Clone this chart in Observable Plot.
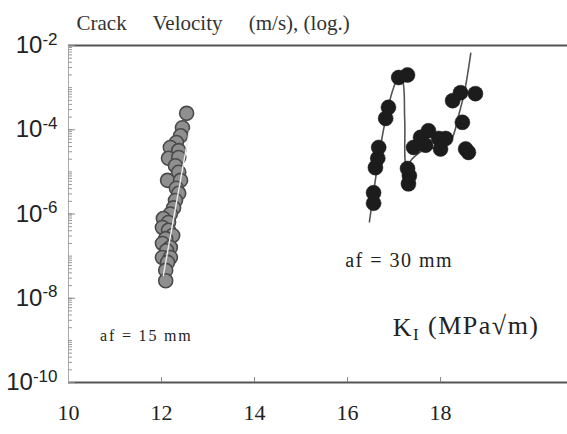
<!DOCTYPE html>
<html>
<head>
<meta charset="utf-8">
<script src="https://cdn.jsdelivr.net/npm/d3@7"></script>
<script src="https://cdn.jsdelivr.net/npm/@observablehq/plot@0.6"></script>
<style>
  html, body { margin: 0; padding: 0; background: #fff; }
  svg text { white-space: pre; }
</style>
</head>
<body>
<div id="chart"></div>
<script>
// Crack velocity vs stress intensity factor K_I, two crack lengths

// af = 15 mm specimen: K_I (MPa√m) and crack velocity (m/s)
const k15 = [12.54, 12.45, 12.41, 12.32, 12.19, 12.37, 12.15, 12.37, 12.30, 12.37,
             12.13, 12.41, 12.32, 12.37, 12.30, 12.26, 12.19, 12.04, 12.15, 12.02,
             12.15, 12.24, 12.09, 12.02, 12.19, 12.11, 12.02, 12.19, 12.13, 12.09, 12.09];
const v15 = [2.45e-4, 1.12e-4, 7.2e-5, 5.0e-5, 3.8e-5, 3.2e-5, 2.1e-5, 2.2e-5, 1.4e-5, 9.8e-6,
             6.3e-6, 6.3e-6, 4.1e-6, 3.1e-6, 2.1e-6, 1.4e-6, 1.0e-6, 7.8e-7, 6.3e-7, 4.8e-7,
             4.1e-7, 3.1e-7, 2.6e-7, 2.0e-7, 1.6e-7, 1.35e-7, 9.3e-8, 9.3e-8, 7.1e-8, 4.6e-8, 2.6e-8];
// fitted trend for af = 15 mm
const fit15K = [12.04, 12.60];
const fit15V = [3.5e-8, 9.5e-5];

// af = 30 mm specimen
const k30 = [16.56, 16.56, 16.60, 16.65, 16.67, 16.82, 16.88, 17.10, 17.29, 17.31,
             17.33, 17.29, 17.42, 17.57, 17.74, 17.96, 18.11, 18.00, 17.68, 18.26,
             18.43, 18.75, 18.47, 18.54, 18.60];
const v30 = [1.8e-6, 3.2e-6, 1.26e-5, 2.1e-5, 3.8e-5, 1.86e-4, 3.4e-4, 1.74e-3, 2.0e-3, 5.2e-6,
             8.1e-6, 1.2e-5, 3.8e-5, 6.6e-5, 9.5e-5, 6.2e-5, 6.2e-5, 3.5e-5, 4.3e-5, 4.9e-4,
             7.6e-4, 7.2e-4, 1.5e-4, 3.5e-5, 2.9e-5];
// fitted trend for af = 30 mm
const fit30K = [16.47, 16.77, 16.97, 17.10, 17.18, 17.23, 17.27, 17.40, 17.68, 18.00, 18.22, 18.39, 18.52, 18.65];
const fit30V = [6.5e-7, 9.5e-5, 8.5e-4, 1.8e-3, 1.5e-3, 1.66e-4, 1.4e-5, 2.1e-5, 3.5e-5, 3.8e-5, 5.5e-5, 2.2e-4, 8.5e-4, 6.5e-3];

// axis ticks
const xTicks = [10, 12, 14, 16, 18];
const yLabelTicks = [1e-2, 1e-4, 1e-6, 1e-8, 1e-10];
const yMinorTicks = d3.scaleLog().domain([1e-10, 1e-2]).ticks();

const pts15 = k15.map((k, i) => ({k, v: v15[i]}));
const pts30 = k30.map((k, i) => ({k, v: v30[i]}));
const line15 = fit15K.map((k, i) => ({k, v: fit15V[i]}));
const line30 = fit30K.map((k, i) => ({k, v: fit30V[i]}));

const serif = "'Liberation Serif', 'Times New Roman', serif";
const sans = "'Liberation Sans', Arial, sans-serif";

const chart = Plot.plot({
  width: 567,
  height: 434,
  marginLeft: 68,
  marginRight: 0,
  marginTop: 45,
  marginBottom: 52,
  x: {domain: [10, 20.73], label: null},
  y: {type: "log", domain: [1e-10, 1e-2], label: null},
  style: {background: "#fff", color: "#222"},
  marks: [
    // frame lines
    Plot.ruleY([1e-10, 1e-2], {stroke: "#555", strokeWidth: 2}),
    Plot.ruleX([10], {stroke: "#aaa", strokeWidth: 1}),
    // y axis minor ticks (inward)
    Plot.axisY(yMinorTicks, {tickSize: -4, text: null, stroke: "#999", label: null}),
    Plot.axisY(yLabelTicks, {tickSize: -7, text: null, stroke: "#888", label: null}),
    Plot.axisY(yLabelTicks, {
      tickSize: 0, tickPadding: 11, fontSize: 24, fontFamily: sans, fill: "#222", label: null,
      tickFormat: d => "10^" + Math.round(Math.log10(d))
    }),
    // x axis
    Plot.axisX(xTicks.slice(1), {tickSize: -5, text: null, stroke: "#888", label: null}),
    Plot.axisX(xTicks, {tickSize: 0, tickPadding: 22, fontSize: 22, fontFamily: serif, fill: "#222", label: null, tickFormat: d => String(d)}),
    // af = 30 mm trend and points
    Plot.line(line30, {x: "k", y: "v", curve: "catmull-rom", stroke: "#555", strokeWidth: 1.6}),
    Plot.dot(pts30, {x: "k", y: "v", r: 7.5, fill: "#1c1c1c", stroke: "#1c1c1c", strokeWidth: 0.5}),
    // af = 15 mm points and trend
    Plot.dot(pts15, {x: "k", y: "v", r: 7, fill: "#8f8f8f", stroke: "#4a4a4a", strokeWidth: 1.6}),
    Plot.line(line15, {x: "k", y: "v", stroke: "#eeeeee", strokeWidth: 1.4}),
    // annotations
    Plot.text(["Crack     Velocity     (m/s), (log.)"], {frameAnchor: "top-left", dx: 8, dy: -30, textAnchor: "start", fontSize: 21, fontFamily: serif, fill: "#333"}),
    Plot.text(["af = 15 mm"], {x: 10.68, y: 1.3e-9, textAnchor: "start", fontSize: 16, fontFamily: serif, fill: "#222"}),
    Plot.text(["af = 30 mm"], {x: 15.95, y: 8e-8, textAnchor: "start", fontSize: 20, fontFamily: serif, fill: "#222"}),
    Plot.text(["K_I (MPa√m)"], {x: 16.97, y: 2.0e-9, textAnchor: "start", fontSize: 26, fontFamily: serif, fill: "#222"})
  ]
});

const svg = d3.select(chart);
// superscript exponents on y tick labels
svg.selectAll('g[aria-label="y-axis tick label"] text').each(function() {
  const t = d3.select(this);
  const [base, exp] = t.text().split("^");
  t.text(null);
  t.append("tspan").text(base);
  t.append("tspan").attr("dy", "-0.5em").attr("font-size", 17).text(exp);
});
// letter spacing for the annotation labels
const spacing = {"af = 15 mm": 1.8, "af = 30 mm": 1.5, "K_I (MPa√m)": 1.5};
svg.selectAll("text").each(function() {
  const s = spacing[d3.select(this).text()];
  if (s !== undefined) d3.select(this).attr("letter-spacing", s);
});
// subscript I in K_I
svg.selectAll("text").filter(function() { return d3.select(this).text() === "K_I (MPa√m)"; }).each(function() {
  const t = d3.select(this);
  t.text(null);
  t.append("tspan").text("K");
  t.append("tspan").attr("dy", "0.25em").attr("font-size", 17).text("I");
  t.append("tspan").attr("dy", "-0.25em").text(" (MPa√m)");
});

document.getElementById("chart").appendChild(chart);
</script>
</body>
</html>
